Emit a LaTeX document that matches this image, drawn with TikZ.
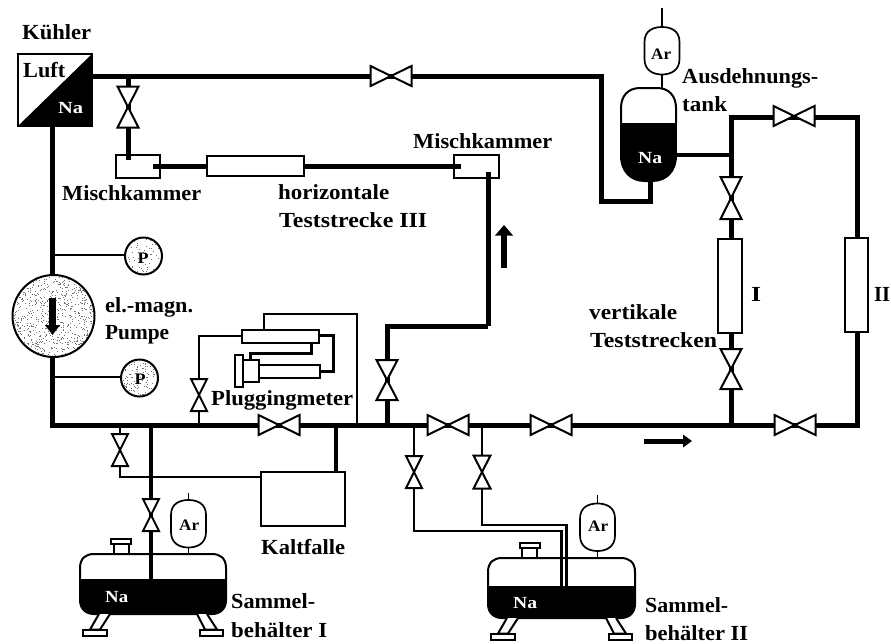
\documentclass[tikz,border=0pt]{standalone}
\usepackage{graphicx}
\usepackage{fontspec}
\setmainfont{Liberation Serif}
\begin{document}
\begin{tikzpicture}[x=1pt,y=-1pt,
  pipe/.style={line width=5pt,line cap=butt,line join=miter},
  midpipe/.style={line width=3.6pt,line join=miter},
  thinpipe/.style={line width=2.4pt,line join=miter},
  meterpipe/.style={line width=2.7pt,line join=miter},
  hair/.style={line width=1.3pt},
  box/.style={draw,line width=2pt,fill=white,inner sep=0pt,outer sep=0pt},
  lbl/.style={font=\bfseries\fontsize{21.5}{24}\selectfont,inner sep=0pt,anchor=base west,text=black},
  ilbl/.style={font=\bfseries\fontsize{17}{18}\selectfont,inner sep=0pt,anchor=base west,text=white},
  blbl/.style={font=\bfseries\fontsize{16}{18}\selectfont,inner sep=0pt,anchor=base west},
  vlv/.style={draw,line width=2pt,fill=white,line join=miter}]
\useasboundingbox (0,0) rectangle (891,643);
% helpers
\newcommand{\lab}[6]{\node[#1] (#2) at (#3,#4) {\resizebox{#5pt}{\height}{#6}};}
\newcommand{\valveH}[3]{\coordinate (#1) at (#2,#3);
  \path[vlv] (#2-20.5,#3-10)--(#2+20.5,#3+10)--(#2+20.5,#3-10)--(#2-20.5,#3+10)--cycle;}
\newcommand{\valveV}[5]{\coordinate (#1) at (#2,#3);
  \path[vlv] (#2-#4,#3-#5)--(#2+#4,#3+#5)--(#2-#4,#3+#5)--(#2+#4,#3-#5)--cycle;}
\newcommand{\speck}[5]{% centre x,y, radius, count, seed
  \begin{scope}
  \clip (#1,#2) circle (#3);
  \pgfmathsetseed{#5}
  \foreach \i in {1,...,#4}{
    \pgfmathsetmacro{\ax}{#1+#3*(2*rnd-1)}
    \pgfmathsetmacro{\ay}{#2+#3*(2*rnd-1)}
    \fill[black!55] (\ax,\ay) rectangle ++(1,1);}
  \end{scope}}
\newcommand{\gastank}[2]{% Ar bottle: centre x, top y
  \path[draw,line width=1.7pt,fill=white] (#1-17.5,#2+15) .. controls (#1-17.5,#2+3) and (#1-8,#2) .. (#1,#2)
    .. controls (#1+8,#2) and (#1+17.5,#2+3) .. (#1+17.5,#2+15) -- (#1+17.5,#2+32)
    .. controls (#1+17.5,#2+44) and (#1+8,#2+47.5) .. (#1,#2+47.5)
    .. controls (#1-8,#2+47.5) and (#1-17.5,#2+44) .. (#1-17.5,#2+32) -- cycle;}
\newcommand{\vessel}[6]{% x1,y1,x2,y2,level, neck x
  \fill[black] (#1-1,#5) -- (#3+1,#5) -- (#3+1,#4-14) .. controls (#3+1,#4-4) and (#3-6,#4+1) .. (#3-14,#4+1) -- (#1+14,#4+1) .. controls (#1+6,#4+1) and (#1-1,#4-4) .. (#1-1,#4-14) -- cycle;
  \draw[line width=2pt] (#1,#5) -- (#1,#2+14) .. controls (#1,#2+4) and (#1+6,#2) .. (#1+14,#2) -- (#3-14,#2) .. controls (#3-6,#2) and (#3,#2+4) .. (#3,#2+14) -- (#3,#5);
  \draw[line width=2pt] (#6-7.5,#2) -- (#6-7.5,#2-10) -- (#6+7.5,#2-10) -- (#6+7.5,#2);
  \draw[line width=2pt,fill=white] (#6-10,#2-15.5) rectangle (#6+10,#2-10);
}
\newcommand{\legs}[3]{% tank left x, bottom y, tank right x
  \draw[line width=2pt,fill=white] (#1+19,#2) -- (#1+10,#2+15.5) -- (#1+20,#2+15.5) -- (#1+30,#2) ;
  \draw[line width=2pt,fill=white] (#1+3,#2+15.5) rectangle (#1+27,#2+21.5);
  \draw[line width=2pt,fill=white] (#3-29,#2) -- (#3-21,#2+15.5) -- (#3-9,#2+15.5) -- (#3-19,#2) ;
  \draw[line width=2pt,fill=white] (#3-26,#2+15.5) rectangle (#3-3,#2+21.5);
}

% ---------- named points of the piping
\coordinate (kuehlerR) at (92,76);
\coordinate (kuehlerB) at (52,126);
\coordinate (junA) at (128,76);
\coordinate (mkLtop) at (128,160);
\coordinate (mkLr) at (153,166);
\coordinate (tsL) at (207,166);
\coordinate (tsR) at (304,166);
\coordinate (mkRl) at (461,166);
\coordinate (mkRv) at (488,172);
\coordinate (c1) at (488,326);
\coordinate (c2) at (387,326);
\coordinate (m1) at (387,425);
\coordinate (topturn) at (601,76);
\coordinate (t2) at (601,201);
\coordinate (t3) at (650,201);
\coordinate (tankB) at (650,180);
\coordinate (tankR) at (676,155);
\coordinate (junT) at (731,155);
\coordinate (v1) at (731,117);
\coordinate (v2) at (857,117);
\coordinate (Itop) at (731,239);
\coordinate (IIbot) at (857,332);
\coordinate (IItop) at (857,238);
\coordinate (mL) at (52,425);
\coordinate (mR) at (857,425);
\coordinate (pumpB) at (52,357);
\coordinate (pumpT) at (52,275);
\coordinate (mI) at (731,425);
\coordinate (Ibot) at (731,333);

% thick loop
\draw[pipe] (kuehlerB) -- (pumpT);
\draw[pipe] (pumpB) -- (mL) -- (mR) -- (IIbot);
\draw[pipe] (IItop) -- (v2) -- (v1) -- (junT);
\draw[pipe] (kuehlerR) -- (topturn) -- (t2) -- (t3) -- (tankB);
\draw[pipe] (junT) -- (Itop);
\draw[pipe] (Ibot) -- (mI);
\draw[line width=4.5pt] (tankR) -- (junT);
\draw[pipe] (c1) -- (c2) -- (m1);

% mixing chambers (open boxes over pipe ends)
\node[draw,line width=1.6pt,minimum width=44pt,minimum height=23pt,inner sep=0pt] (mkL) at (138,166.5) {};
\node[draw,line width=1.6pt,minimum width=45pt,minimum height=23pt,inner sep=0pt] (mkR) at (476.5,166.5) {};
\draw[pipe] (junA) -- (mkLtop);
\draw[pipe] (mkLr) -- (tsL);
\draw[pipe] (tsR) -- (mkRl);
\draw[pipe] (mkRv) -- (c1);

% test sections
\node[box,minimum width=97pt,minimum height=20pt] (tsIII) at (255.5,166) {};
\node[box,minimum width=24pt,minimum height=94pt] (tsI) at (730,286) {};
\node[box,minimum width=23pt,minimum height=94pt] (tsII) at (856.5,285) {};

% pluggingmeter
\coordinate (pg0) at (199,425);
\coordinate (pg1) at (199,336);
\coordinate (r1L) at (242,336);
\coordinate (pgT) at (264,330);
\coordinate (pg2) at (264,314);
\coordinate (pg3) at (357,314);
\coordinate (pg4) at (357,425);
\coordinate (r1R) at (319,335);
\coordinate (pg5) at (333,335);
\coordinate (pg6) at (333,371);
\coordinate (r2R) at (320,371);
\coordinate (r1B) at (311,343);
\coordinate (pg7) at (311,353);
\coordinate (pg8) at (250,353);
\coordinate (blkT) at (250,360);
\draw[meterpipe] (pg0) -- (pg1) -- (r1L);
\draw[meterpipe] (pgT) -- (pg2) -- (pg3) -- (pg4);
\draw[line width=3pt] (r1R) -- (pg5) -- (pg6) -- (r2R);
\draw[line width=3pt] (r1B) -- (pg7) -- (pg8) -- (blkT);
\node[box,minimum width=77pt,minimum height=13pt] (r1) at (280.5,336.5) {};
\node[box,minimum width=62pt,minimum height=13pt] (r2) at (289,371.5) {};
\node[box,minimum width=16pt,minimum height=22pt] (blk) at (251,371) {};
\node[box,minimum width=8pt,minimum height=32pt] (plate) at (239,371) {};

% Kaltfalle and its branches
\coordinate (kfT) at (336,472);
\coordinate (kfm) at (336,425);
\coordinate (kfL) at (261,477);
\coordinate (b1) at (120,425);
\coordinate (b2) at (120,477);
\coordinate (s0) at (151,425);
\coordinate (s1) at (151,580);
\draw[midpipe] (kfm) -- (kfT);
\draw[meterpipe] (b1) -- (b2) -- (kfL);
\node[box,minimum width=84pt,minimum height=54pt,line width=2.3pt] (kf) at (303,499) {};

% collecting tank II branches
\coordinate (d0) at (414,425);
\coordinate (d1) at (414,531);
\coordinate (d2) at (561.5,531);
\coordinate (d3) at (561.5,587);
\coordinate (e0) at (482,425);
\coordinate (e1) at (482,525);
\coordinate (e2) at (566.5,525);
\coordinate (e3) at (566.5,587);

% vessels
\vessel{80}{554}{226}{614}{579}{121}
\legs{80}{614}{226}
\vessel{488}{558}{635}{618}{586}{529.5}
\legs{488}{618}{635}
\draw[thinpipe] (d0) -- (d1) -- (d2) -- (d3);
\draw[meterpipe] (e0) -- (e1) -- (e2) -- (e3);
\draw[midpipe] (s0) -- (s1);

% expansion tank
\fill[black] (620,123) rectangle (677,160);
\fill[black] (620,155) .. controls (620,172) and (630,182) .. (645,182) -- (652,182) .. controls (667,182) and (677,172) .. (677,155) -- cycle;
\draw[line width=2pt] (621,123) -- (621,108) .. controls (621,96) and (628,88) .. (640,88) -- (657,88) .. controls (669,88) and (676,96) .. (676,108) -- (676,123);
% gas bottles
\coordinate (ar1t) at (662,8);
\coordinate (ar1b) at (662,88);
\coordinate (ar2t) at (188.5,493);
\coordinate (ar2b) at (188.5,554);
\coordinate (ar3t) at (597.5,495);
\coordinate (ar3b) at (597.5,558);
\draw[hair] (ar1t) -- (ar1b);
\draw[line width=1.8pt] (ar2t) -- (ar2b);
\draw[line width=1.8pt] (ar3t) -- (ar3b);
\gastank{662}{27}
\gastank{188.5}{500}
\gastank{597.5}{503.5}

% pump + gauges
\coordinate (g1) at (125,255);
\coordinate (g1l) at (52,255);
\coordinate (g2) at (121,377);
\coordinate (g2l) at (52,377);
\draw[hair] (g1l) -- (g1);
\draw[hair] (g2l) -- (g2);
\node[circle,draw,line width=2pt,fill=white,minimum size=82pt,inner sep=0pt] (pump) at (53.5,316) {};
\speck{53.5}{316}{40}{750}{12}
\node[circle,draw,line width=2pt,minimum size=37pt,inner sep=0pt,fill=white] (gauge1) at (143.5,256) {};
\speck{143.5}{256}{17.5}{55}{5}
\node[circle,draw,line width=2pt,minimum size=37pt,inner sep=0pt,fill=white] (gauge2) at (139.5,378) {};
\speck{139.5}{378}{17.5}{130}{7}
\lab{blbl}{pa}{137.5}{263}{11}{P}
\lab{blbl}{pb}{134.5}{384}{11}{P}

% cooler
\fill[white] (18,54) rectangle (92,126);
\fill[black] (92,54) -- (92,126) -- (18,126) -- cycle;
\draw[line width=2pt] (18,54) rectangle (92,126);
\lab{lbl}{luft}{23}{77}{42}{Luft}
\lab{ilbl}{nak}{58}{113}{25}{Na}
\lab{ilbl}{nat}{638}{163}{24}{Na}
\lab{ilbl}{na1}{105}{602}{23}{Na}
\lab{ilbl}{na2}{513}{608}{24}{Na}
\lab{blbl}{ar1}{651}{59}{20}{Ar}
\lab{blbl}{ar2}{179}{530}{20}{Ar}
\lab{blbl}{ar3}{588}{531}{20}{Ar}

% valves
\valveH{vA}{391}{76}
\valveH{vB}{794}{116}
\valveH{vC}{279}{425}
\valveH{vD}{448}{425}
\valveH{vE}{551}{425}
\valveH{vF}{795}{425}
\valveV{vG}{128}{107}{10.5}{20.5}
\valveV{vH}{731}{198}{10.5}{21}
\valveV{vI}{731}{369}{10.5}{20}
\valveV{vJ}{387}{380}{10.5}{20}
\valveV{vK}{199}{395}{8}{16}
\valveV{vL}{120}{450}{8}{16}
\valveV{vM}{151}{515}{8}{16}
\valveV{vN}{414}{472}{8}{16}
\valveV{vO}{482}{472}{8.5}{16.5}

% flow arrows
\coordinate (a1s) at (644,441);
\coordinate (a1e) at (683,441);
\coordinate (a2s) at (504,268);
\coordinate (a2e) at (504,235);
\coordinate (a3s) at (52.5,298);
\coordinate (a3e) at (52.5,325);
\draw[line width=5pt] (a1s) -- (a1e);
\fill (683,434.5) -- (692,441) -- (683,447.5) -- cycle;
\draw[line width=6.5pt] (a2s) -- (a2e);
\fill (495,235.5) -- (504,225) -- (513,235.5) -- cycle;
\draw[line width=6.5pt] (a3s) -- (a3e);
\fill (45,325) -- (52.5,335) -- (60,325) -- cycle;

% labels
\lab{lbl}{kl}{22}{39}{69}{Kühler}
\lab{lbl}{mk1}{62}{200}{139}{Mischkammer}
\lab{lbl}{mk2}{413}{148}{139}{Mischkammer}
\lab{lbl}{hz}{278}{199}{111}{horizontale}
\lab{lbl}{ts3}{279}{227}{148}{Teststrecke III}
\lab{lbl}{au}{682}{83}{136}{Ausdehnungs-}
\lab{lbl}{ta}{682}{111}{45}{tank}
\lab{lbl}{em}{105}{312}{88}{el.-magn.}
\lab{lbl}{pu}{105}{339}{64}{Pumpe}
\lab{lbl}{vt}{589}{319}{88}{vertikale}
\lab{lbl}{ts}{590}{347}{127}{Teststrecken}
\lab{lbl}{tI}{751}{301}{10}{I}
\lab{lbl}{tII}{874}{301}{16}{II}
\lab{lbl}{pm}{211}{405}{142}{Pluggingmeter}
\lab{lbl}{kfl}{261}{554}{84}{Kaltfalle}
\lab{lbl}{s1a}{231}{608}{84}{Sammel-}
\lab{lbl}{s1b}{231}{637}{96}{behälter I}
\lab{lbl}{s2a}{645}{612}{83}{Sammel-}
\lab{lbl}{s2b}{645}{640}{103}{behälter II}
\end{tikzpicture}
\end{document}
